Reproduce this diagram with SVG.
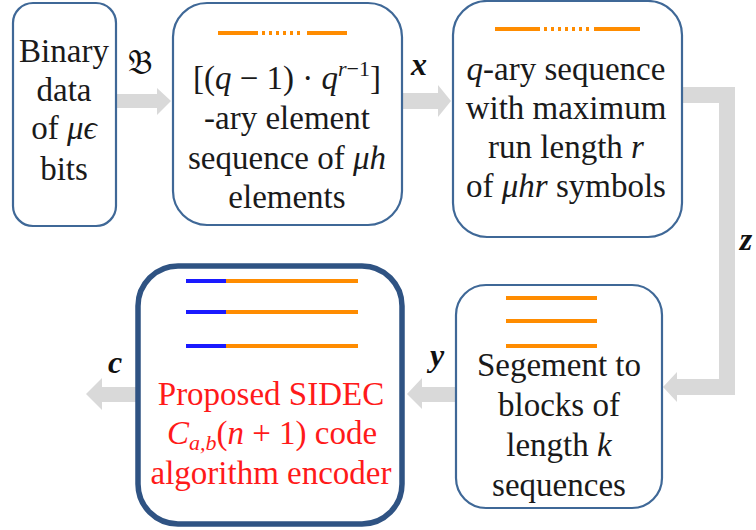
<svg xmlns="http://www.w3.org/2000/svg" width="756" height="530" viewBox="0 0 756 530">
  <defs>
    <!-- shared arrowhead shape, pointing right, tip at origin -->
    <polygon id="head" points="-14,-14 0,0 -14,14" fill="#d9d9d9"/>
  </defs>
  <rect width="756" height="530" fill="#ffffff"/>

  <!-- connectors -->
  <g id="connectors" fill="#d9d9d9">
    <!-- binary data to element sequence -->
    <rect x="116" y="94" width="42" height="14"/>
    <polygon points="157,88 171,101 157,115"/>
    <!-- element sequence to q-ary sequence -->
    <rect x="402" y="93" width="38" height="16"/>
    <polygon points="438,85 451,101 438,117"/>
    <!-- q-ary sequence to segmentation, elbow route -->
    <path d="M682,95 H727 V387 H675" fill="none" stroke="#d9d9d9" stroke-width="16"/>
    <polygon points="677,372 663,387 677,402"/>
    <!-- segmentation to encoder -->
    <rect x="420" y="387" width="36" height="15"/>
    <polygon points="422,378 407,394 422,409"/>
    <!-- encoder output -->
    <rect x="100" y="387" width="37" height="15"/>
    <polygon points="102,378 86,394 102,410"/>
    <!-- connector labels -->
    <text x="140" y="74" font-family="DejaVu Serif" font-size="34" fill="#111111" text-anchor="middle">&#x1D505;</text>
    <text x="419" y="75" font-family="Liberation Serif" font-size="32" font-weight="bold" font-style="italic" fill="#111111" text-anchor="middle">x</text>
    <text x="746" y="250" font-family="Liberation Serif" font-size="32" font-weight="bold" font-style="italic" fill="#111111" text-anchor="middle">z</text>
    <text x="437" y="366" font-family="Liberation Serif" font-size="32" font-weight="bold" font-style="italic" fill="#111111" text-anchor="middle">y</text>
    <text x="115" y="373" font-family="Liberation Serif" font-size="32" font-weight="bold" font-style="italic" fill="#111111" text-anchor="middle">c</text>
  </g>

  <!-- binary data -->
  <g id="node-binary">
    <rect x="13" y="3" width="103" height="223" rx="20" fill="#ffffff" stroke="#3f6897" stroke-width="2.2"/>
    <text x="64" y="62" font-family="Liberation Serif" font-size="33" fill="#1a1a1a" text-anchor="middle">Binary</text>
    <text x="64" y="101" font-family="Liberation Serif" font-size="33" fill="#1a1a1a" text-anchor="middle">data</text>
    <text x="64" y="139" font-family="Liberation Serif" font-size="33" fill="#1a1a1a" text-anchor="middle">of <tspan font-style="italic">&#x3BC;&#x3F5;</tspan></text>
    <text x="64" y="180" font-family="Liberation Serif" font-size="33" fill="#1a1a1a" text-anchor="middle">bits</text>
  </g>

  <!-- element sequence -->
  <g id="node-element-seq">
    <rect x="173" y="3" width="229" height="222" rx="34" fill="#ffffff" stroke="#3f6897" stroke-width="2.2"/>
    <g stroke="#ff8c00" stroke-width="4">
      <line x1="218" y1="33" x2="258" y2="33"/>
      <line x1="262" y1="33" x2="303" y2="33" stroke-dasharray="3 4"/>
      <line x1="307" y1="33" x2="347" y2="33"/>
    </g>
    <text x="287" y="89" font-family="Liberation Serif" font-size="33" fill="#1a1a1a" text-anchor="middle">[(<tspan font-style="italic">q</tspan> &#x2212; 1) &#xB7; <tspan font-style="italic">q</tspan><tspan font-size="22" dy="-13"><tspan font-style="italic">r</tspan>&#x2212;1</tspan><tspan dy="13">]</tspan></text>
    <text x="287" y="129" font-family="Liberation Serif" font-size="33" fill="#1a1a1a" text-anchor="middle">-ary element</text>
    <text x="287" y="169" font-family="Liberation Serif" font-size="33" fill="#1a1a1a" text-anchor="middle">sequence of <tspan font-style="italic">&#x3BC;h</tspan></text>
    <text x="287" y="208" font-family="Liberation Serif" font-size="33" fill="#1a1a1a" text-anchor="middle">elements</text>
  </g>

  <!-- q-ary sequence -->
  <g id="node-qary">
    <rect x="453" y="1" width="229" height="236" rx="34" fill="#ffffff" stroke="#3f6897" stroke-width="2.2"/>
    <g stroke="#ff8c00" stroke-width="4">
      <line x1="495" y1="29" x2="540" y2="29"/>
      <line x1="544" y1="29" x2="590" y2="29" stroke-dasharray="3 4"/>
      <line x1="594" y1="29" x2="640" y2="29"/>
    </g>
    <text x="566" y="80" font-family="Liberation Serif" font-size="33" fill="#1a1a1a" text-anchor="middle"><tspan font-style="italic">q</tspan>-ary sequence</text>
    <text x="566" y="119" font-family="Liberation Serif" font-size="33" fill="#1a1a1a" text-anchor="middle">with maximum</text>
    <text x="566" y="158" font-family="Liberation Serif" font-size="33" fill="#1a1a1a" text-anchor="middle">run length <tspan font-style="italic">r</tspan></text>
    <text x="566" y="197" font-family="Liberation Serif" font-size="33" fill="#1a1a1a" text-anchor="middle">of <tspan font-style="italic">&#x3BC;hr</tspan> symbols</text>
  </g>

  <!-- segmentation -->
  <g id="node-segment">
    <rect x="456" y="285" width="206" height="223" rx="30" fill="#ffffff" stroke="#3f6897" stroke-width="2.2"/>
    <g stroke="#ff8c00" stroke-width="4">
      <line x1="506" y1="298" x2="597" y2="298"/>
      <line x1="506" y1="321" x2="597" y2="321"/>
      <line x1="506" y1="346" x2="597" y2="346"/>
    </g>
    <text x="559" y="376" font-family="Liberation Serif" font-size="33" fill="#1a1a1a" text-anchor="middle">Segement to</text>
    <text x="559" y="416" font-family="Liberation Serif" font-size="33" fill="#1a1a1a" text-anchor="middle">blocks of</text>
    <text x="559" y="456" font-family="Liberation Serif" font-size="33" fill="#1a1a1a" text-anchor="middle">length <tspan font-style="italic">k</tspan></text>
    <text x="559" y="496" font-family="Liberation Serif" font-size="33" fill="#1a1a1a" text-anchor="middle">sequences</text>
  </g>

  <!-- encoder -->
  <g id="node-encoder">
    <rect x="138" y="266" width="264" height="258" rx="40" fill="#ffffff" stroke="#2f5383" stroke-width="5.5"/>
    <g stroke-width="4">
      <line x1="186" y1="281" x2="226" y2="281" stroke="#1a1aff"/>
      <line x1="226" y1="281" x2="358" y2="281" stroke="#ff8c00"/>
      <line x1="186" y1="312" x2="226" y2="312" stroke="#1a1aff"/>
      <line x1="226" y1="312" x2="358" y2="312" stroke="#ff8c00"/>
      <line x1="186" y1="346" x2="226" y2="346" stroke="#1a1aff"/>
      <line x1="226" y1="346" x2="358" y2="346" stroke="#ff8c00"/>
    </g>
    <text x="271" y="405" font-family="Liberation Serif" font-size="33" fill="#ff1a1a" text-anchor="middle">Proposed SIDEC</text>
    <text x="272" y="444" font-family="Liberation Serif" font-size="33" fill="#ff1a1a" text-anchor="middle"><tspan font-style="italic">C</tspan><tspan font-size="22" font-style="italic" dy="6">a,b</tspan><tspan dy="-6">(<tspan font-style="italic">n</tspan> + 1) code</tspan></text>
    <text x="271" y="484" font-family="Liberation Serif" font-size="33" fill="#ff1a1a" text-anchor="middle">algorithm encoder</text>
  </g>
</svg>
